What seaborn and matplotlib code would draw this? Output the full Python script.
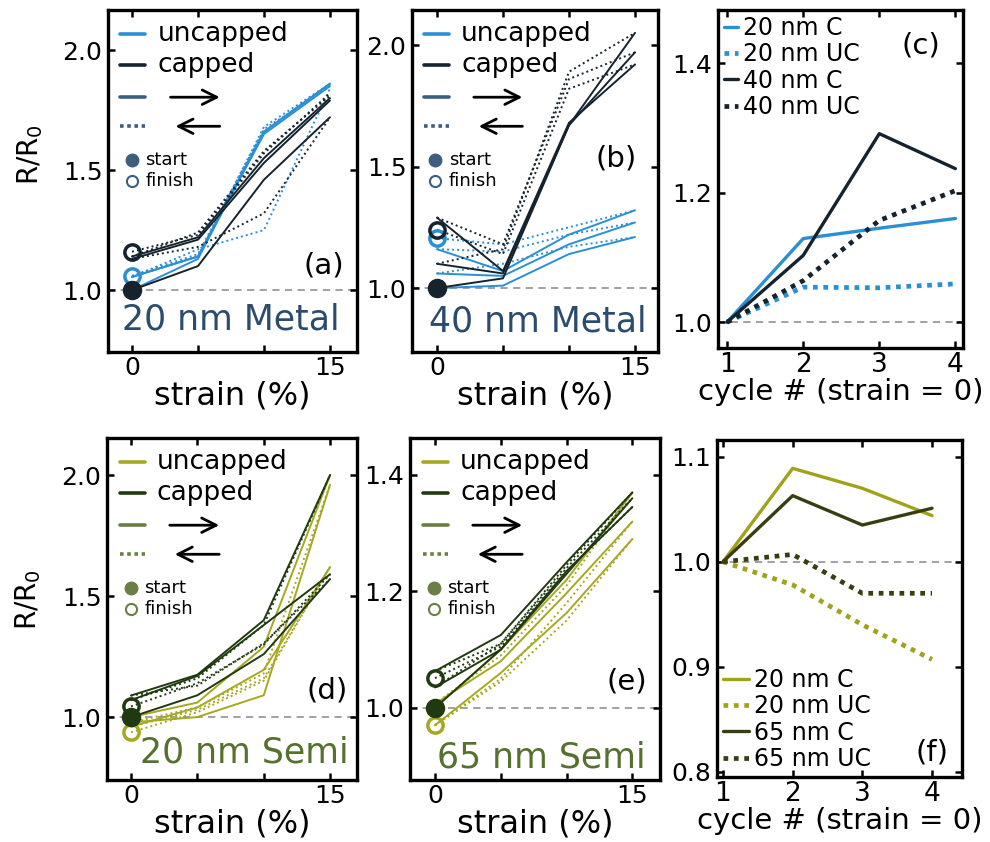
import numpy as np
import pandas as pd
import seaborn as sns
import matplotlib.pyplot as plt
from matplotlib.lines import Line2D

sns.set_theme(style='ticks', rc={'axes.edgecolor': 'black', 'text.color': 'black',
                                 'axes.labelcolor': 'black', 'xtick.color': 'black',
                                 'ytick.color': 'black'})
plt.rcParams['font.family'] = ['DejaVu Sans']

# ---- data (R/R0) ----
strain = [0, 5, 10, 15]
cycles = [1, 2, 3, 4]

# (a) 20 nm metal: one row per sweep, values at strain 0/5/10/15
a_unc_fwd = [[1.00, 1.13, 1.66, 1.86], [1.055, 1.14, 1.66, 1.86], [1.055, 1.14, 1.65, 1.85]]
a_unc_back = [[1.055, 1.14, 1.68, 1.86], [1.055, 1.17, 1.25, 1.84], [1.06, 1.15, 1.67, 1.85]]
a_cap_fwd = [[1.00, 1.10, 1.46, 1.72], [1.13, 1.21, 1.53, 1.79], [1.14, 1.22, 1.55, 1.80]]
a_cap_back = [[1.13, 1.18, 1.32, 1.72], [1.14, 1.24, 1.58, 1.81], [1.16, 1.23, 1.57, 1.82]]

# (b) 40 nm metal
b_unc_fwd = [[1.00, 1.01, 1.14, 1.21], [1.06, 1.05, 1.18, 1.27], [1.16, 1.07, 1.22, 1.32]]
b_unc_back = [[1.06, 1.10, 1.17, 1.21], [1.16, 1.15, 1.22, 1.27], [1.205, 1.18, 1.25, 1.32]]
b_cap_fwd = [[1.00, 1.04, 1.67, 2.05], [1.10, 1.06, 1.67, 1.97], [1.29, 1.07, 1.68, 1.92]]
b_cap_back = [[1.10, 1.16, 1.89, 2.05], [1.29, 1.18, 1.86, 1.97], [1.24, 1.14, 1.82, 1.92]]

# (c) cycle values at strain = 0, metal
c_20_C = [1.0, 1.129, 1.145, 1.160]
c_20_UC = [1.0, 1.054, 1.053, 1.059]
c_40_C = [1.0, 1.103, 1.291, 1.237]
c_40_UC = [1.0, 1.064, 1.157, 1.203]

# (d) 20 nm semi
d_unc_fwd = [[1.00, 1.06, 1.29, 2.00], [0.978, 1.00, 1.09, 1.96], [0.96, 1.04, 1.195, 1.62]]
d_unc_back = [[0.978, 1.04, 1.18, 1.96], [0.96, 1.03, 1.16, 1.62], [0.937, 1.02, 1.15, 1.62]]
d_cap_fwd = [[1.00, 1.09, 1.26, 1.57], [1.089, 1.175, 1.40, 2.00], [1.07, 1.17, 1.38, 1.59]]
d_cap_back = [[1.089, 1.13, 1.305, 1.57], [1.07, 1.16, 1.38, 2.00], [1.044, 1.14, 1.30, 1.59]]

# (e) 65 nm semi
e_unc_fwd = [[1.00, 1.10, 1.22, 1.37], [1.007, 1.08, 1.197, 1.32], [0.97, 1.06, 1.163, 1.29]]
e_unc_back = [[1.007, 1.09, 1.21, 1.37], [0.97, 1.05, 1.18, 1.32], [0.97, 1.045, 1.15, 1.29]]
e_cap_fwd = [[1.00, 1.10, 1.23, 1.36], [1.063, 1.125, 1.25, 1.37], [1.035, 1.10, 1.235, 1.345]]
e_cap_back = [[1.063, 1.11, 1.24, 1.36], [1.035, 1.11, 1.245, 1.37], [1.051, 1.105, 1.235, 1.345]]

# (f) cycle values at strain = 0, semi
f_20_C = [1.0, 1.089, 1.070, 1.044]
f_20_UC = [1.0, 0.978, 0.940, 0.907]
f_65_C = [1.0, 1.063, 1.035, 1.051]
f_65_UC = [1.0, 1.007, 0.970, 0.970]

# colours
BLUE, NAVY, METAL_MID, METAL_TXT = '#2b8fd6', '#15232e', '#3d5e80', '#2c4c6e'
OLIVE, GREEN, SEMI_MID, SEMI_TXT = '#a6a821', '#1f3a10', '#6b7f45', '#55702f'
F_OLIVE, F_DARK = '#a0a21c', '#3a3d12'
DOTS = (0, (1, 1.6))
SQ = (0, (1, 1.2))

fig = plt.figure(figsize=(9.9, 8.42), dpi=100)


def box(l, t, r, b):
    return fig.add_axes([l / 990, 1 - b / 842, (r - l) / 990, (b - t) / 842])


def frame(ax, xlim, ylim, yticks, xticks, xlabels, xlabel, xls=18, xlsize=23):
    ax.set_xlim(xlim)
    ax.set_ylim(ylim)
    ax.set_yticks(yticks)
    ax.set_yticklabels([f'{v:.1f}' for v in yticks])
    ax.set_xticks(xticks)
    ax.set_xticklabels(xlabels)
    ax.tick_params(direction='in', length=5, width=1.8, top=True, right=True)
    ax.tick_params(axis='y', labelsize=18, pad=4)
    ax.tick_params(axis='x', labelsize=xls, pad=3)
    for s in ax.spines.values():
        s.set_linewidth(2.4)
        s.set_color('black')
    ax.set_xlabel(xlabel, fontsize=xlsize, labelpad=0)
    ax.set_ylabel('')
    ax.axhline(1.0, color='#9a9a9a', lw=1.3, ls=(0, (4, 3)), zorder=0)


def sweeps(ax, fwd, back, color):
    for y in fwd:
        sns.lineplot(x=strain, y=y, ax=ax, color=color, linewidth=1.4, legend=False)
    for y in back:
        sns.lineplot(x=strain, y=y, ax=ax, color=color, linewidth=1.4,
                     linestyle=DOTS, legend=False)


def ends(ax, unc_back, cap_fwd, cap_back, c_unc, c_cap):
    ax.plot(strain[0], unc_back[-1][0], 'o', ms=11, mfc='none', mec=c_unc, mew=2.5, zorder=5)
    ax.plot(strain[0], cap_back[-1][0], 'o', ms=11, mfc='none', mec=c_cap, mew=2.5, zorder=5)
    ax.plot(strain[0], cap_fwd[0][0], 'o', ms=13, color=c_cap, zorder=6)


def key(ax, c_unc, c_cap, c_mid):
    t = ax.transAxes
    ax.plot([0.05, 0.15], [0.93, 0.93], transform=t, color=c_unc, lw=2.6)
    ax.text(0.20, 0.93, 'uncapped', transform=t, fontsize=19, va='center')
    ax.plot([0.05, 0.15], [0.84, 0.84], transform=t, color=c_cap, lw=2.6)
    ax.text(0.20, 0.84, 'capped', transform=t, fontsize=19, va='center')
    ax.plot([0.05, 0.15], [0.745, 0.745], transform=t, color=c_mid, lw=2.6)
    ax.annotate('', xy=(0.46, 0.745), xytext=(0.24, 0.745), xycoords=t,
                arrowprops=dict(arrowstyle='->', lw=2, color='black', mutation_scale=26))
    ax.plot([0.05, 0.15], [0.66, 0.66], transform=t, color=c_mid, lw=2.6, ls=(0, (1, 1)))
    ax.annotate('', xy=(0.26, 0.66), xytext=(0.46, 0.66), xycoords=t,
                arrowprops=dict(arrowstyle='->', lw=2, color='black', mutation_scale=26))
    ax.plot(0.095, 0.56, 'o', ms=9, color=c_mid, transform=t)
    ax.text(0.15, 0.56, 'start', transform=t, fontsize=13, va='center')
    ax.plot(0.095, 0.50, 'o', ms=8, mfc='none', mec=c_mid, mew=1.5, transform=t)
    ax.text(0.15, 0.50, 'finish', transform=t, fontsize=13, va='center')


def tag(ax, s, x, y):
    ax.text(x, y, s, transform=ax.transAxes, fontsize=21, ha='right', va='center')


strain_ticks = ['0', '', '', '15']

# (a)
ax = box(108, 10, 357, 352)
sweeps(ax, a_unc_fwd, a_unc_back, BLUE)
sweeps(ax, a_cap_fwd, a_cap_back, NAVY)
ends(ax, a_unc_back, a_cap_fwd, a_cap_back, BLUE, NAVY)
frame(ax, (-1.82, 17.05), (0.742, 2.167), [1.0, 1.5, 2.0], strain, strain_ticks, 'strain (%)')
key(ax, BLUE, NAVY, METAL_MID)
tag(ax, '(a)', 0.95, 0.254)
ax.text(0.494, 0.094, '20 nm Metal', transform=ax.transAxes, fontsize=25,
        color=METAL_TXT, ha='center', va='center')
ax.set_ylabel('R/R$_0$', fontsize=20)
ax.yaxis.set_label_coords(-0.255, 0.576)

# (b)
ax = box(412, 10, 658, 352)
sweeps(ax, b_unc_fwd, b_unc_back, BLUE)
sweeps(ax, b_cap_fwd, b_cap_back, NAVY)
ends(ax, b_unc_back, b_cap_fwd, b_cap_back, BLUE, NAVY)
frame(ax, (-1.89, 16.74), (0.737, 2.144), [1.0, 1.5, 2.0], strain, strain_ticks, 'strain (%)')
key(ax, BLUE, NAVY, METAL_MID)
tag(ax, '(b)', 0.915, 0.567)
ax.text(0.51, 0.088, '40 nm Metal', transform=ax.transAxes, fontsize=25,
        color=METAL_TXT, ha='center', va='center')

# (c)
ax = box(718, 10, 963, 348)
sns.lineplot(x=cycles, y=c_20_C, ax=ax, color=BLUE, linewidth=2.4, label='20 nm C')
sns.lineplot(x=cycles, y=c_20_UC, ax=ax, color=BLUE, linewidth=3.4, linestyle=SQ, label='20 nm UC')
sns.lineplot(x=cycles, y=c_40_C, ax=ax, color=NAVY, linewidth=2.4, label='40 nm C')
sns.lineplot(x=cycles, y=c_40_UC, ax=ax, color=NAVY, linewidth=3.4, linestyle=SQ, label='40 nm UC')
frame(ax, (0.88, 4.1), (0.96, 1.482), [1.0, 1.2, 1.4], cycles, ['1', '2', '3', '4'],
      'cycle # (strain = 0)', xls=19, xlsize=21)
ax.legend(loc='upper left', frameon=False, fontsize=17, handlelength=0.6, handletextpad=0.2,
          labelspacing=0.1, borderaxespad=0.15, borderpad=0.1)
tag(ax, '(c)', 0.906, 0.896)

# (d)
ax = box(107, 438, 357, 780)
sweeps(ax, d_unc_fwd, d_unc_back, OLIVE)
sweeps(ax, d_cap_fwd, d_cap_back, GREEN)
ends(ax, d_unc_back, d_cap_fwd, d_cap_back, OLIVE, GREEN)
frame(ax, (-1.81, 17.03), (0.74, 2.153), [1.0, 1.5, 2.0], strain, strain_ticks, 'strain (%)')
key(ax, OLIVE, GREEN, SEMI_MID)
tag(ax, '(d)', 0.964, 0.263)
ax.text(0.55, 0.079, '20 nm Semi', transform=ax.transAxes, fontsize=25,
        color=SEMI_TXT, ha='center', va='center')
ax.set_ylabel('R/R$_0$', fontsize=20)
ax.yaxis.set_label_coords(-0.255, 0.526)

# (e)
ax = box(410, 438, 660, 780)
sweeps(ax, e_unc_fwd, e_unc_back, OLIVE)
sweeps(ax, e_cap_fwd, e_cap_back, GREEN)
ends(ax, e_unc_back, e_cap_fwd, e_cap_back, OLIVE, GREEN)
frame(ax, (-1.9, 17.1), (0.876, 1.4635), [1.0, 1.2, 1.4], strain, strain_ticks, 'strain (%)')
key(ax, OLIVE, GREEN, SEMI_MID)
tag(ax, '(e)', 0.948, 0.287)
ax.text(0.525, 0.067, '65 nm Semi', transform=ax.transAxes, fontsize=25,
        color=SEMI_TXT, ha='center', va='center')

# (f)
ax = box(717, 440, 962, 777)
sns.lineplot(x=cycles, y=f_20_C, ax=ax, color=F_OLIVE, linewidth=2.4, label='20 nm C')
sns.lineplot(x=cycles, y=f_20_UC, ax=ax, color=F_OLIVE, linewidth=3.4, linestyle=SQ, label='20 nm UC')
sns.lineplot(x=cycles, y=f_65_C, ax=ax, color=F_DARK, linewidth=2.4, label='65 nm C')
sns.lineplot(x=cycles, y=f_65_UC, ax=ax, color=F_DARK, linewidth=3.4, linestyle=SQ, label='65 nm UC')
frame(ax, (0.914, 4.43), (0.795, 1.116), [0.8, 0.9, 1.0, 1.1], cycles, ['1', '2', '3', '4'],
      'cycle # (strain = 0)', xls=19, xlsize=21)
ax.legend(loc='lower left', frameon=False, fontsize=17, handlelength=1.1, handletextpad=0.2,
          labelspacing=0.1, borderaxespad=0.15, borderpad=0.1)
tag(ax, '(f)', 0.943, 0.074)

fig.savefig('out.png', dpi=100)
